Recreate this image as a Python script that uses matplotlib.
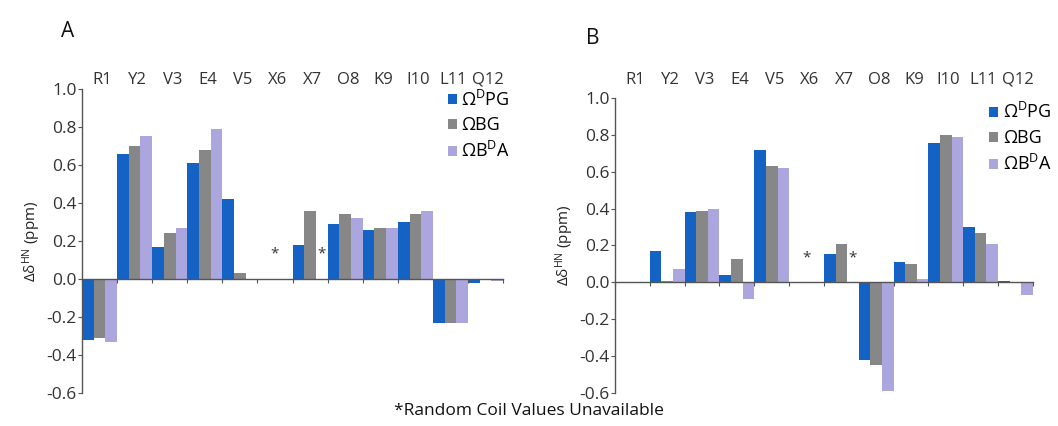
import numpy as np
import matplotlib
matplotlib.use("Agg")
import matplotlib.pyplot as plt

plt.rcParams['font.family'] = ['Open Sans', 'DejaVu Sans']
plt.rcParams['mathtext.fontset'] = 'custom'
plt.rcParams['mathtext.rm'] = 'Open Sans'
plt.rcParams['mathtext.it'] = 'Open Sans:italic'
plt.rcParams['axes.unicode_minus'] = False

residues = ["R1", "Y2", "V3", "E4", "V5", "X6", "X7", "O8", "K9", "I10", "L11", "Q12"]
series_names = ["Ω$^{\\mathrm{D}}$PG", "ΩBG", "ΩB$^{\\mathrm{D}}$A"]
colors = ["#1462c4", "#878787", "#aba6dd"]

nan = np.nan
# Panel A
a_dpg = [-0.32, 0.66, 0.17, 0.61, 0.42, nan, 0.18, 0.29, 0.26, 0.30, -0.23, -0.02]
a_bg  = [-0.31, 0.70, 0.24, 0.68, 0.03, nan, 0.36, 0.34, 0.27, 0.34, -0.23, -0.005]
a_bda = [-0.33, 0.75, 0.27, 0.79, 0.00, nan, nan, 0.32, 0.27, 0.36, -0.23, -0.01]
# Panel B
b_dpg = [0.00, 0.17, 0.38, 0.04, 0.72, nan, 0.155, -0.42, 0.11, 0.755, 0.30, 0.01]
b_bg  = [0.00, 0.01, 0.385, 0.125, 0.63, nan, 0.21, -0.45, 0.10, 0.80, 0.27, -0.005]
b_bda = [0.00, 0.07, 0.40, -0.09, 0.62, nan, nan, -0.59, 0.02, 0.79, 0.21, -0.07]

# missing values marked with asterisk: (residue, series index)
missing_marks = [("X6", 1), ("X7", 2)]
asterisk_level = 0.13

yticks = [-0.6, -0.4, -0.2, 0.0, 0.2, 0.4, 0.6, 0.8, 1.0]

fig = plt.figure(figsize=(10.58, 4.26), dpi=100)
fig.patch.set_facecolor("white")

axA = fig.add_axes([0.0775, 0.0775, 0.398, 0.7136])
axB = fig.add_axes([0.5813, 0.0775, 0.395, 0.6925])

width = 1.0 / 3

def draw(ax, data, label_y):
    x = np.arange(len(residues))
    handles = []
    for i, (vals, c, name) in enumerate(zip(data, colors, series_names)):
        h = ax.bar(x + (i - 1) * width, vals, width=width, color=c, label=name,
                   linewidth=0)
        handles.append(h)
    ax.set_xlim(-0.5, len(residues) - 0.5)
    ax.set_ylim(-0.6, 1.0)
    ax.set_yticks(yticks)
    ax.set_yticklabels([f"{v:.1f}" for v in yticks], fontsize=12.5, color="#333333")
    for s in ["top", "right"]:
        ax.spines[s].set_visible(False)
    ax.spines["left"].set_color("#555555")
    ax.spines["left"].set_linewidth(1.0)
    ax.spines["bottom"].set_position(("data", 0))
    ax.spines["bottom"].set_color("#555555")
    ax.spines["bottom"].set_linewidth(1.0)
    ax.set_xticks(np.arange(len(residues) + 1) - 0.5)
    ax.set_xticklabels([])
    ax.tick_params(axis="x", direction="out", length=3, color="#555555")
    ax.tick_params(axis="y", direction="out", length=3, color="#555555", pad=1)
    for j, r in enumerate(residues):
        ax.text(j + 0.08, label_y, r, transform=ax.get_xaxis_transform(),
                ha="center", va="center", fontsize=12, color="#333333")
    for r, si in missing_marks:
        j = residues.index(r)
        ax.text(j + (si - 1) * width, asterisk_level, "*", ha="center", va="center",
                fontsize=11, color="#333333")
    ax.set_ylabel("Δδ$^{\\mathrm{HN}}$ (ppm)", fontsize=11, color="#222222", labelpad=2)
    return handles

hA = draw(axA, [a_dpg, a_bg, a_bda], 1.03)
hB = draw(axB, [b_dpg, b_bg, b_bda], 1.061)

legend_kw = dict(loc="upper left", bbox_transform=fig.transFigure, frameon=False,
                 fontsize=13, handlelength=0.5, handleheight=0.5, handletextpad=0.25,
                 labelspacing=0.38, borderpad=0, borderaxespad=0)
axA.legend(handles=hA, bbox_to_anchor=(0.423, 0.79), **legend_kw)
axB.legend(handles=hB, bbox_to_anchor=(0.935, 0.76), **legend_kw)

fig.text(0.064, 0.925, "A", fontsize=15, ha="center", va="center", color="#111111")
fig.text(0.560, 0.91, "B", fontsize=15, ha="center", va="center", color="#111111")
fig.text(0.5, 0.035, "*Random Coil Values Unavailable", fontsize=12.5,
         ha="center", va="center", color="#111111")

fig.savefig("out.png", dpi=100, facecolor="white")
